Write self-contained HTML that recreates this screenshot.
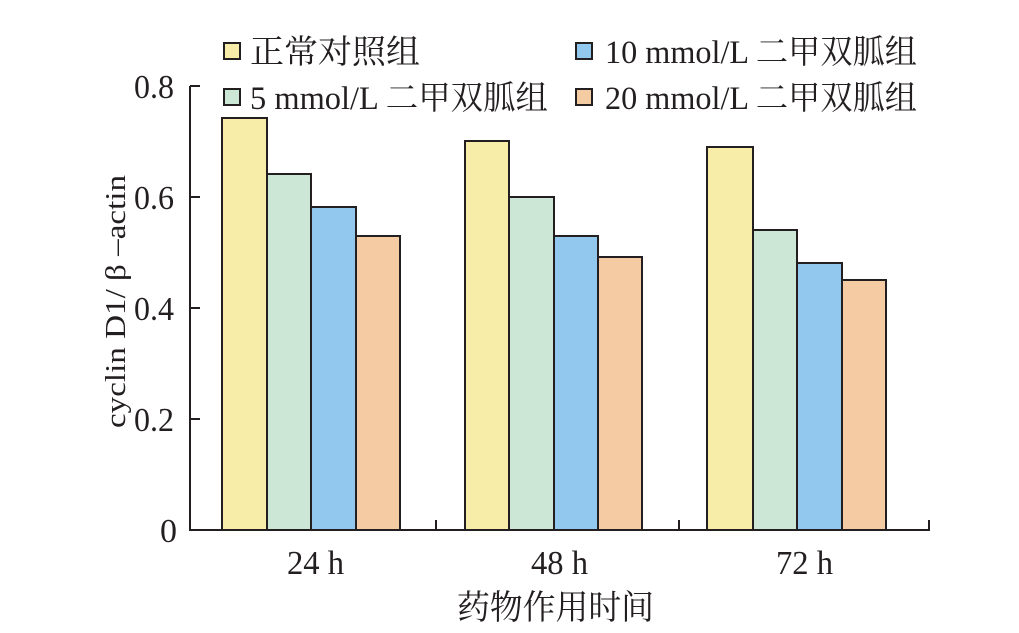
<!DOCTYPE html>
<html><head><meta charset="utf-8"><style>
html,body{margin:0;padding:0;background:#fff;}
svg{display:block;}
text{font-family:"Liberation Serif","Noto Serif CJK SC",serif;fill:#231f20;}
</style></head><body>
<svg width="1019" height="633" viewBox="0 0 1019 633" xmlns="http://www.w3.org/2000/svg">
<g stroke="#231f20" stroke-width="2" fill="none">
<line x1="190" y1="86" x2="190" y2="530"/>
<line x1="189" y1="530" x2="930" y2="530"/>
<line x1="190" y1="86" x2="200" y2="86"/>
<line x1="190" y1="197" x2="200" y2="197"/>
<line x1="190" y1="308" x2="200" y2="308"/>
<line x1="190" y1="419" x2="200" y2="419"/>
<line x1="436" y1="530" x2="436" y2="520"/>
<line x1="679" y1="530" x2="679" y2="520"/>
<line x1="929" y1="530" x2="929" y2="520"/>
</g>
<g stroke="#231f20" stroke-width="2">
<rect x="222" y="118" width="45" height="412" fill="#f8eda8"/>
<rect x="267" y="174" width="44" height="356" fill="#cde7d6"/>
<rect x="311" y="207" width="45" height="323" fill="#92c8ee"/>
<rect x="356" y="236" width="44" height="294" fill="#f5cba4"/>
<rect x="465" y="141" width="44" height="389" fill="#f8eda8"/>
<rect x="509" y="197" width="45" height="333" fill="#cde7d6"/>
<rect x="554" y="236" width="44" height="294" fill="#92c8ee"/>
<rect x="598" y="257" width="44" height="273" fill="#f5cba4"/>
<rect x="707" y="147" width="46" height="383" fill="#f8eda8"/>
<rect x="753" y="230" width="44" height="300" fill="#cde7d6"/>
<rect x="797" y="263" width="45" height="267" fill="#92c8ee"/>
<rect x="842" y="280" width="44" height="250" fill="#f5cba4"/>
<rect x="224" y="43" width="16" height="16" fill="#f8eda8"/>
<rect x="224" y="89" width="16" height="16" fill="#cde7d6"/>
<rect x="576" y="43" width="16" height="16" fill="#92c8ee"/>
<rect x="576" y="89" width="16" height="16" fill="#f5cba4"/>
</g>
<g font-size="33">
<text x="250" y="63" textLength="170" lengthAdjust="spacingAndGlyphs">正常对照组</text>
<text x="250" y="109" textLength="298" lengthAdjust="spacingAndGlyphs">5 mmol/L 二甲双胍组</text>
<text x="605" y="63" textLength="312" lengthAdjust="spacingAndGlyphs">10 mmol/L 二甲双胍组</text>
<text x="605" y="109" textLength="312" lengthAdjust="spacingAndGlyphs">20 mmol/L 二甲双胍组</text>
</g>
<g font-size="34">
<text x="134" y="98" textLength="40" lengthAdjust="spacingAndGlyphs">0.8</text>
<text x="134" y="209" textLength="40" lengthAdjust="spacingAndGlyphs">0.6</text>
<text x="134" y="320" textLength="40" lengthAdjust="spacingAndGlyphs">0.4</text>
<text x="134" y="431" textLength="40" lengthAdjust="spacingAndGlyphs">0.2</text>
<text x="160" y="542">0</text>
</g>
<g font-size="34">
<text x="287" y="574" textLength="57" lengthAdjust="spacingAndGlyphs">24 h</text>
<text x="531" y="574" textLength="57" lengthAdjust="spacingAndGlyphs">48 h</text>
<text x="776" y="574" textLength="57" lengthAdjust="spacingAndGlyphs">72 h</text>
<text x="457" y="619" textLength="197" lengthAdjust="spacingAndGlyphs">药物作用时间</text>
</g>
<text font-size="28" transform="translate(125,428) rotate(-90)" textLength="253" lengthAdjust="spacingAndGlyphs">cyclin D1/ β –actin</text>
</svg>
</body></html>
